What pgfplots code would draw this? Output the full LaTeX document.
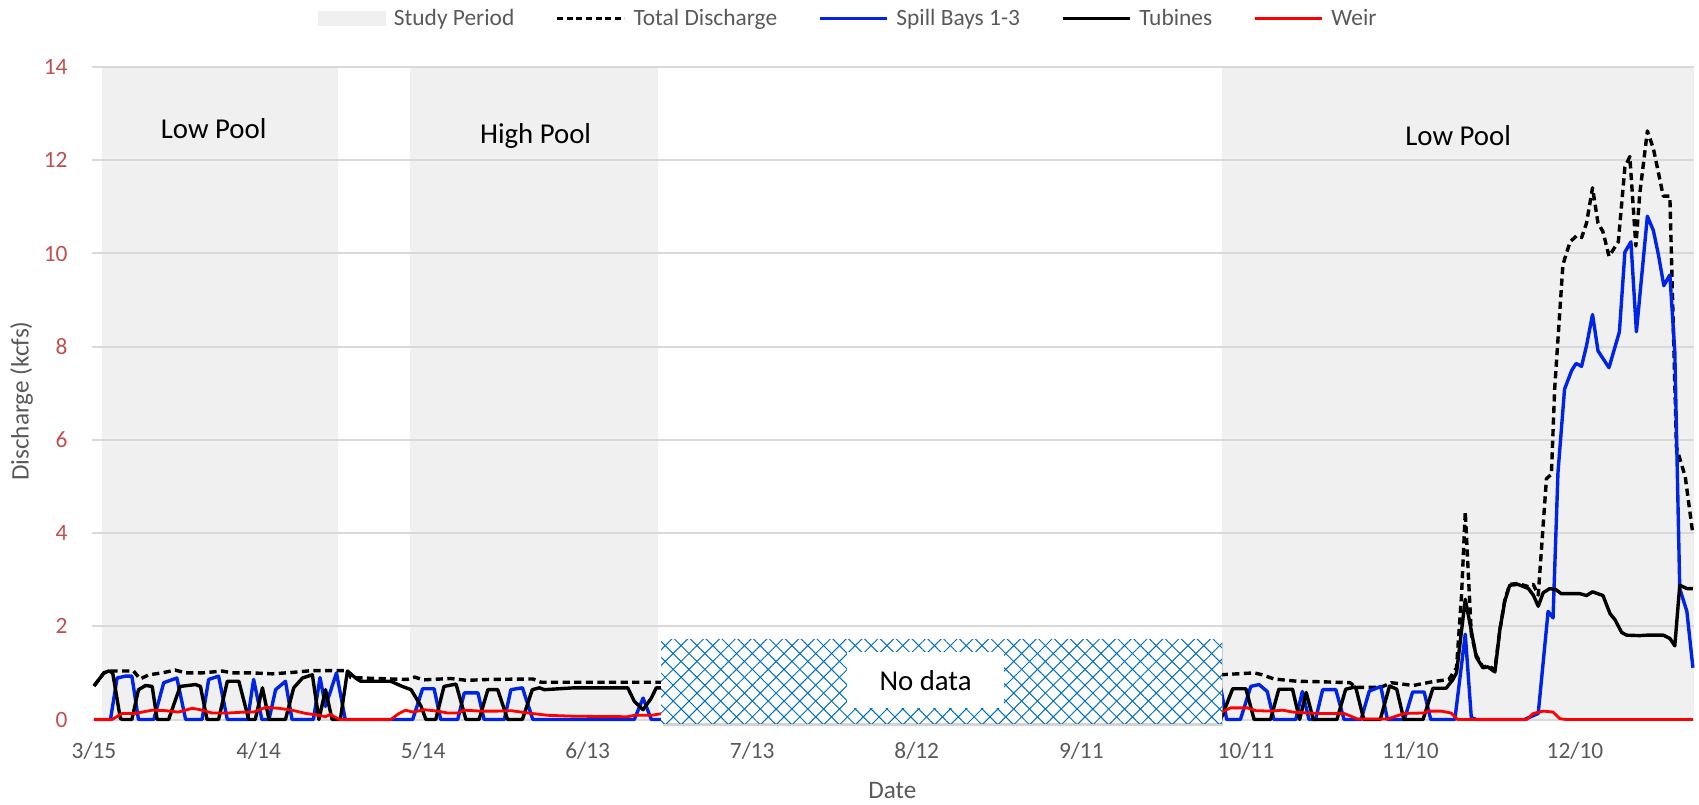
\documentclass[border=0pt]{standalone}
\usepackage{pgfplots}
\pgfplotsset{compat=1.18}
\usepackage{fontspec}
\setmainfont{Carlito}
\usetikzlibrary{patterns.meta,shadows}

\definecolor{studygray}{RGB}{240,240,240}
\definecolor{gridgray}{RGB}{217,217,217}
\definecolor{tickred}{RGB}{192,80,77}
\definecolor{labelgray}{RGB}{89,89,89}
\definecolor{spillblue}{RGB}{0,36,230}
\definecolor{hatchblue}{RGB}{0,112,192}

\begin{document}
\begin{tikzpicture}
\begin{axis}[
  at={(0pt,0pt)}, anchor=south west,
  scale only axis, width=800.8pt, height=326.2pt,
  set layers, clip=false,
  xmin=-0.3, xmax=291.7, ymin=0, ymax=14,
  xtick={0,30,...,270},
  xticklabels={3/15,4/14,5/14,6/13,7/13,8/12,9/11,10/11,11/10,12/10},
  ytick={0,2,...,14},
  ymajorgrids, grid style={draw=gridgray, line width=1pt},
  axis line style={draw=none}, major tick length=0pt,
  /pgf/number format/assume math mode=true,
  tick label style={font=\fontsize{11.7}{14}\selectfont},
  xticklabel style={text=labelgray, anchor=base, yshift=-19.4pt},
  yticklabel style={text=tickred, anchor=east, inner xsep=0pt, xshift=-12.2pt},
  xlabel={Date}, ylabel={Discharge (kcfs)},
  label style={font=\fontsize{12.6}{15}\selectfont, text=labelgray},
  xlabel style={at={(axis description cs:0.4995,-0.1208)}, anchor=base},
  ylabel style={at={(axis description cs:-0.0443,0.488)}, anchor=center},
  unbounded coords=jump,
  legend image code/.code={\draw[#1] (0pt,0pt) -- (33.6pt,0pt);},
  legend columns=5,
  legend style={at={(axis description cs:0.4738,1.0745)}, anchor=center,
    draw=none, fill=none, column sep=0pt,
    nodes={inner xsep=3.8pt, inner ysep=1pt, text=labelgray, font=\fontsize{11.7}{14}\selectfont},
    /tikz/every even column/.append style={column sep=16.8pt}},
]

% study periods (shaded background bands)
\addplot[draw=none, fill=studygray, forget plot, on layer=axis background]
  coordinates {(1.4,14) (44.5,14)} \closedcycle;
\addplot[draw=none, fill=studygray, forget plot, on layer=axis background]
  coordinates {(57.6,14) (102.9,14)} \closedcycle;
\addplot[draw=none, fill=studygray, forget plot, on layer=axis background]
  coordinates {(205.6,14) (291.7,14)} \closedcycle;

\addlegendimage{legend image code/.code={\fill[studygray] (0pt,-3.5pt) rectangle (33.6pt,3.5pt);}}
\addlegendentry{Study Period}
\addlegendimage{black, line width=1.6pt, dash pattern=on 3pt off 1.8pt}
\addlegendentry{Total Discharge}
\addlegendimage{spillblue, line width=1.6pt}
\addlegendentry{Spill Bays 1-3}
\addlegendimage{black, line width=1.6pt}
\addlegendentry{Tubines}
\addlegendimage{red, line width=1.6pt}
\addlegendentry{Weir}

% Total discharge
\addplot[black, line width=1.7pt, dash pattern=on 3.6pt off 2.2pt, line join=round, forget plot] coordinates {
(0,0.72) (1.8,1.0) (3.0,1.04) (7.2,1.04) (8.4,0.87) (10.0,0.96) (12.4,1.0) (14.8,1.06) (16.7,1.0) (19.7,1.0)
(23.4,1.04) (25.2,1.0) (28.8,1.0) (32.5,0.98) (36.1,1.01) (39.8,1.05) (46.2,1.05) (46.8,0.9) (54.1,0.87)
(57.1,0.86) (58.5,0.91) (60.0,0.85) (65.0,0.88) (68.0,0.84) (72.0,0.86) (80.0,0.87) (81.5,0.8) (103.7,0.8)
(150,nan)
(205.4,0.96) (211.5,1.0) (213.0,0.96) (215.1,0.87) (219.4,0.82) (223.7,0.81) (229.0,0.79) (230.0,0.69)
(234.6,0.69) (236.5,0.79) (240.5,0.73) (244.0,0.81) (247.0,0.86) (248.4,1.11) (249.3,2.63) (250.0,4.46)
(250.5,3.25) (251.1,1.83) (252.0,1.38) (253.2,1.13) (254.2,1.15) (255.4,1.07) (256.3,1.92) (257.2,2.56)
(258.1,2.9) (259.6,2.92) (261.5,2.85) (262.4,2.9) (263.3,2.67) (264.8,5.17) (265.7,5.26) (266.3,7.1)
(267.8,9.76) (269.1,10.25) (270.3,10.38) (271.2,10.34) (272.1,10.65) (273.2,11.41) (274.2,10.65)
(275.1,10.47) (276.2,9.94) (277.9,10.25) (279.1,11.85) (280.0,12.08) (281.1,10.16) (281.8,11.27)
(283.2,12.63) (284.3,12.25) (286.1,11.23) (287.3,11.23) (288.5,5.84) (290.1,5.21) (291.5,3.97)
};

% Spill bays 1-3
\addplot[spillblue, line width=1.7pt, line join=round, forget plot] coordinates {
(0,0) (3.0,0) (4.2,0.89) (5.7,0.93) (6.9,0.93) (8.1,0) (10.9,0) (12.7,0.79) (15.1,0.89) (16.7,0) (19.7,0)
(20.9,0.86) (22.7,0.93) (24.3,0) (28.0,0) (29.1,0.86) (30.6,0) (31.9,0) (33.1,0.64) (34.9,0.82) (36.1,0)
(40.0,0) (41.2,0.9) (42.2,0.28) (44.2,1.0) (45.8,0) (58.1,0) (59.9,0.66) (62.0,0.66) (63.2,0) (66.3,0)
(67.5,0.57) (70.0,0.57) (71.1,0) (74.8,0) (76.0,0.64) (78.1,0.68) (80.0,0) (98.5,0) (100.1,0.46) (101.6,0)
(103.7,0)
(150,nan)
(205.4,0.68) (206.5,0) (209.0,0) (210.9,0.71) (212.4,0.75) (213.9,0.6) (215.1,0) (219.1,0) (220.3,0.6)
(221.5,0) (222.7,0) (224.0,0.64) (226.4,0.64) (227.9,0) (231.0,0) (232.5,0.61) (234.6,0.71) (235.8,0)
(238.9,0) (240.4,0.59) (242.5,0.59) (243.7,0) (248.1,0) (250.0,1.83) (251.1,0.04) (252.0,0) (260.8,0)
(263.3,0.13) (265.1,2.32) (266.0,2.18) (266.9,5.3) (268.1,7.09) (269.4,7.49) (270.2,7.64) (271.2,7.58)
(272.1,8.02) (273.2,8.69) (274.2,7.91) (276.2,7.55) (278.1,8.32) (279.1,10.03) (280.2,10.25) (281.2,8.32)
(283.2,10.8) (284.3,10.49) (285.2,9.98) (286.2,9.31) (287.3,9.54) (288.2,7.89) (289.1,2.81) (290.4,2.32)
(291.5,1.11)
};

% Turbines
\addplot[black, line width=1.7pt, line join=round, forget plot] coordinates {
(0,0.72) (1.8,1.0) (2.7,1.04) (3.4,1.0) (4.8,0.02) (5.2,0) (6.9,0) (8.1,0.64) (9.4,0.73) (10.6,0.71)
(11.5,0) (13.6,0) (15.7,0.71) (18.5,0.75) (19.4,0.71) (20.6,0) (22.7,0) (24.3,0.82) (26.4,0.82) (28.2,0)
(29.4,0) (30.7,0.68) (31.9,0) (34.9,0) (36.4,0.68) (38.0,0.89) (39.8,0.96) (41.0,0) (42.2,0.64) (43.4,0)
(44.9,0) (46.2,1.04) (47.7,0.89) (48.6,0.82) (50.4,0.82) (54.1,0.82) (56.2,0.71) (57.8,0.64) (59.6,0.29)
(60.5,0) (62.3,0) (63.8,0.71) (66.0,0.76) (67.8,0) (70.2,0) (71.8,0.64) (73.6,0.64) (75.4,0) (78.1,0)
(79.9,0.64) (81.2,0.68) (82.1,0.64) (87.6,0.68) (97.3,0.68) (98.5,0.39) (100.1,0.21) (101.6,0.46)
(102.5,0.68) (103.7,0.68)
(150,nan)
(205.4,0) (207.6,0.66) (210.0,0.66) (211.5,0) (214.5,0) (216.0,0.65) (218.5,0.65) (219.8,0) (221.0,0.58)
(222.3,0) (226.6,0) (228.2,0.65) (230.0,0.7) (231.5,0) (234.5,0) (236.2,0.72) (237.5,0.65) (238.8,0)
(242.3,0) (244.1,0.67) (246.5,0.67) (247.7,0.85) (248.4,1.0) (250.0,2.58) (250.8,2.09) (252.0,1.34)
(253.2,1.11) (254.1,1.13) (255.4,1.02) (256.3,1.92) (257.2,2.54) (258.1,2.88) (259.6,2.9) (261.5,2.81)
(262.4,2.67) (263.3,2.43) (264.2,2.72) (265.4,2.81) (266.6,2.78) (267.5,2.7) (270.9,2.7) (272.1,2.66)
(273.2,2.74) (275.1,2.66) (276.4,2.27) (277.3,2.14) (278.5,1.87) (279.4,1.81) (281.8,1.8) (283.1,1.81)
(286.1,1.81) (287.3,1.74) (288.2,1.58) (289.1,2.88) (290.4,2.81) (291.5,2.81)
};

% Weir
\addplot[red, line width=1.4pt, line join=round, forget plot] coordinates {
(0,0) (3.3,0) (5.1,0.13) (7.5,0.13) (10.6,0.2) (13.0,0.19) (15.4,0.16) (17.9,0.24) (19.4,0.21) (21.5,0.14)
(24.6,0.14) (27.6,0.16) (29.1,0.16) (31.3,0.26) (33.7,0.24) (36.1,0.2) (38.6,0.13) (41.0,0.09) (42.2,0.06)
(43.1,0.11) (44.7,0) (54.1,0) (55.6,0.13) (56.8,0.2) (58.1,0.16) (60.2,0.21) (62.6,0.18) (64.4,0.14)
(66.3,0.14) (67.5,0.2) (70.5,0.18) (73.6,0.18) (76.0,0.19) (79.1,0.14) (82.7,0.09) (87.6,0.07) (97.3,0.06)
(98.5,0.09) (101.6,0.09) (103.7,0.13)
(150,nan)
(205.4,0.15) (207.2,0.25) (210.3,0.25) (211.8,0.19) (214.5,0.18) (216.7,0.2) (218.5,0.16) (221.2,0.14)
(223.7,0.13) (227.9,0.13) (230.4,0.01) (235.8,0.01) (238.9,0.13) (242.5,0.14) (243.1,0.18) (245.6,0.18)
(247.4,0.14) (248.6,0) (261.2,0) (262.4,0.13) (264.2,0.18) (266.0,0.16) (267.2,0.02) (268.3,0) (291.5,0)
};

% period labels
\node[anchor=base, font=\fontsize{14.4}{17}\selectfont] at (axis cs:21.8,12.47) {Low Pool};
\node[anchor=base, font=\fontsize{14.4}{17}\selectfont] at (axis cs:80.5,12.36) {High Pool};
\node[anchor=base, font=\fontsize{14.4}{17}\selectfont] at (axis cs:248.7,12.31) {Low Pool};

% no-data panel
\fill[white, drop shadow={shadow xshift=0.8pt, shadow yshift=-1.6pt, opacity=0.35}]
  (axis cs:103.4,-0.08) rectangle (axis cs:205.6,1.727);
\fill[pattern={Lines[angle=45,distance=5.6pt,line width=0.5pt]}, pattern color=hatchblue]
  (axis cs:103.4,-0.08) rectangle (axis cs:205.6,1.727);
\fill[pattern={Lines[angle=-45,distance=5.6pt,line width=0.5pt]}, pattern color=hatchblue]
  (axis cs:103.4,-0.08) rectangle (axis cs:205.6,1.727);
\fill[white] (axis cs:137.3,0.24) rectangle (axis cs:165.9,1.455);
\node[anchor=base, font=\fontsize{14.4}{17}\selectfont] at (axis cs:151.6,0.618) {No data};

\end{axis}
\pgfresetboundingbox
\path (-46.2pt,-42.25pt) rectangle (803.3pt,359.75pt);
\end{tikzpicture}
\end{document}
